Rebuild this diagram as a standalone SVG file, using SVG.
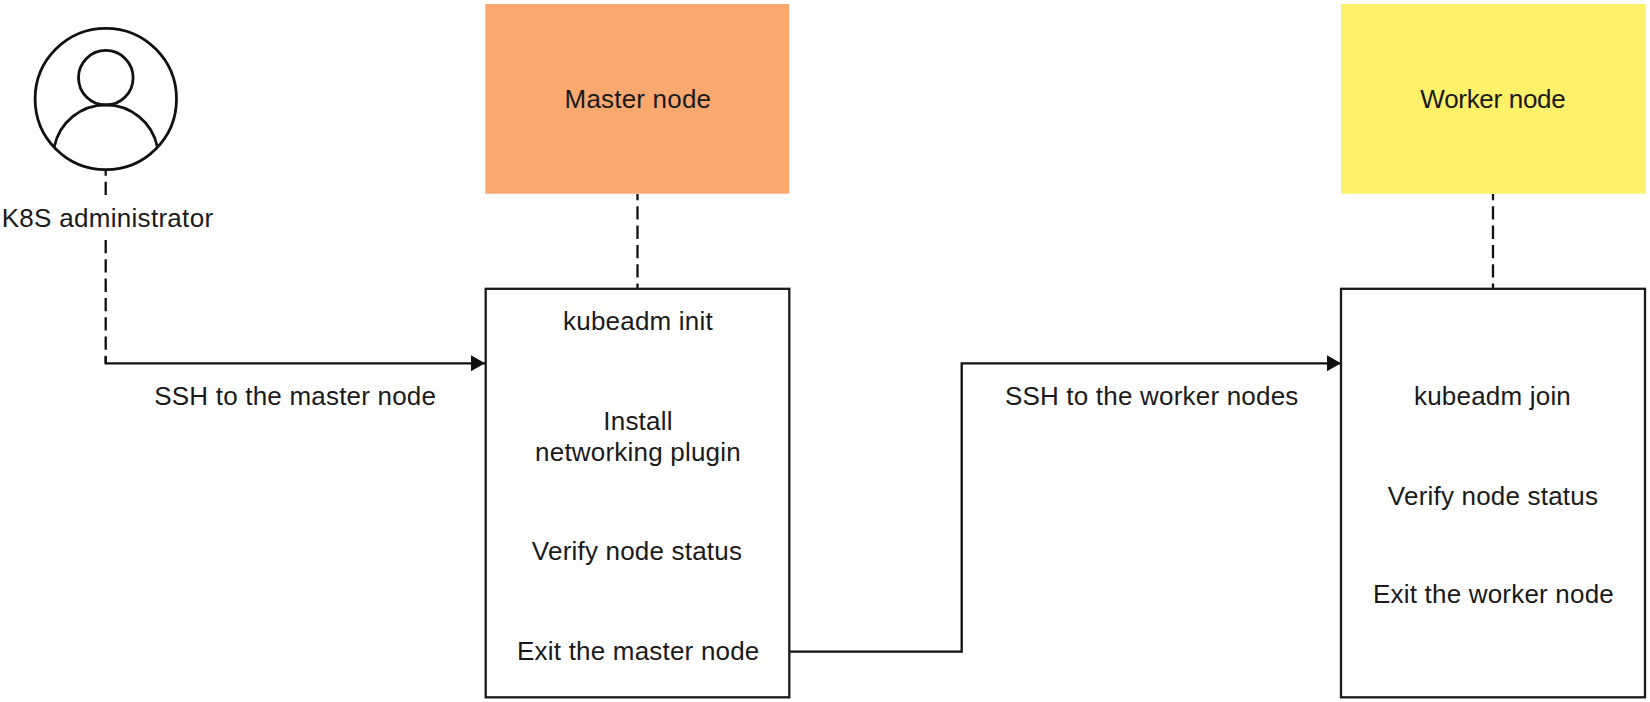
<svg xmlns="http://www.w3.org/2000/svg" width="1650" height="702" viewBox="0 0 1650 702">
<style>
text{font-family:"Liberation Sans",Arial,sans-serif;font-size:26px;letter-spacing:.2px;fill:#1a1a1a;text-anchor:middle}
.box{fill:#fff;stroke:#1a1a1a;stroke-width:2.3}
.line{fill:none;stroke:#111;stroke-width:2.3}
.dash{stroke-dasharray:13.3 6}
.icon{fill:none;stroke:#111;stroke-width:2.8}
</style>
<defs><marker id="arrow" markerUnits="userSpaceOnUse" markerWidth="15" markerHeight="18" refX="14" refY="9" orient="auto"><path d="M0 1L14 9L0 17Z" fill="#111"/></marker></defs>
<rect width="1650" height="702" fill="#fff"/>
<g id="connectors">
<path class="line dash" stroke-dashoffset="8.6" d="M105.7 171V195"/>
<path class="line dash" d="M105.7 240V363"/>
<path class="line" d="M105.7 356.7V363.3H485" marker-end="url(#arrow)"/>
<path class="line dash" stroke-dashoffset="7" d="M637.5 194V288"/>
<path class="line" d="M790 651.7H961.7V363.3H1341" marker-end="url(#arrow)"/>
<path class="line dash" stroke-dashoffset="7" d="M1493 194V288"/>
</g>
<g id="admin">
<circle class="icon" cx="105.8" cy="99" r="70.7"/>
<circle class="icon" cx="105.8" cy="77.7" r="27.3"/>
<path class="icon" d="M54.3 146.7A52.6 52.6 0 0 1 157.3 146.7"/>
<text x="107.5" y="226.7" style="letter-spacing:.3px">K8S administrator</text>
</g>
<g id="master-header"><rect x="485.3" y="4" width="304" height="189.7" fill="#f9a870"/><text x="637.9" y="107.7">Master node</text></g>
<g id="worker-header"><rect x="1341" y="4" width="304.7" height="189.7" fill="#fff16a"/><text x="1492.9" y="107.7" style="letter-spacing:-.3px">Worker node</text></g>
<g id="master-steps"><rect class="box" x="485.7" y="288.8" width="303.6" height="408.5"/>
<text x="638" y="330">kubeadm init</text><text x="638" y="430">Install</text><text x="638" y="461">networking plugin</text><text x="637" y="560.3">Verify node status</text><text x="638.3" y="660">Exit the master node</text></g>
<g id="worker-steps"><rect class="box" x="1341" y="288.8" width="304" height="408.5"/>
<text x="1492.5" y="405">kubeadm join</text><text x="1493" y="505">Verify node status</text><text x="1493.5" y="603.3">Exit the worker node</text></g>
<g id="labels"><text x="295.2" y="405.2">SSH to the master node</text><text x="1151.7" y="405.2">SSH to the worker nodes</text></g>
</svg>
